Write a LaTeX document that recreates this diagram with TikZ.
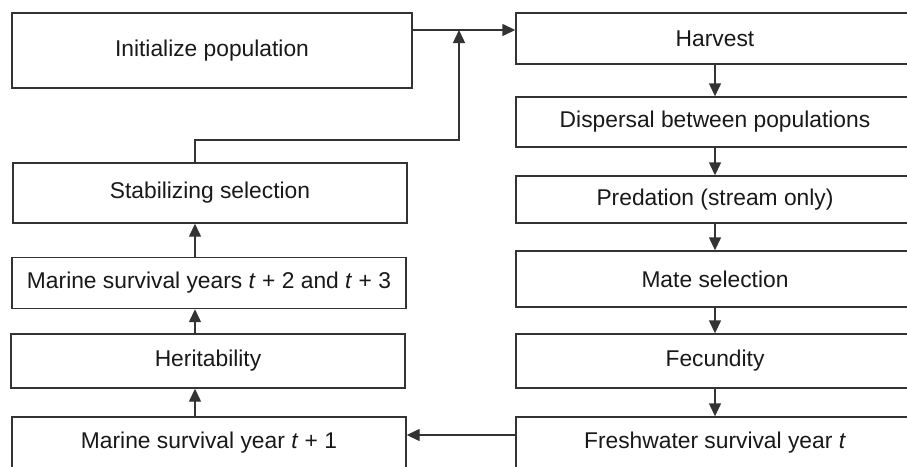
\documentclass[tikz,border=0pt]{standalone}
\usepackage{fontspec}
\setmainfont{Liberation Sans}
\usetikzlibrary{arrows.meta}
\tikzset{
  box/.style={draw=black!80, line width=1.4pt, rectangle, inner sep=0pt, align=center,
    font=\fontsize{22.8pt}{26pt}\selectfont, text=black!90},
  arr/.style={draw=black!80, line width=1.4pt, -{Triangle[length=13pt,width=12pt]}},
  ln/.style={draw=black!80, line width=1.4pt}
}
\begin{document}
\begin{tikzpicture}[x=1pt,y=-1pt]
\useasboundingbox (0,0) rectangle (907,466);
\fill[white] (0,0) rectangle (907,466);
\clip (0,0) rectangle (907,466);
% left column
\node[box, minimum width=400pt, minimum height=75pt] (init) at (212,50.5) {Initialize population};
\node[box, minimum width=394pt, minimum height=60pt] (stab) at (210,193) {Stabilizing selection};
\node[box, minimum width=394pt, minimum height=51pt] (mar23) at (209,283) {Marine survival years \textit{t} + 2 and \textit{t} + 3};
\node[box, minimum width=394pt, minimum height=54pt] (her) at (208,361) {Heritability};
\node[box, minimum width=394pt, minimum height=52pt] (mar1) at (209,443) {Marine survival year \textit{t} + 1};
% right column
\node[box, minimum width=398pt, minimum height=51pt] (harv) at (715,38.5) {Harvest};
\node[box, minimum width=398pt, minimum height=50pt] (disp) at (715,122) {Dispersal between populations};
\node[box, minimum width=398pt, minimum height=47pt] (pred) at (715,199.5) {Predation (stream only)};
\node[box, minimum width=398pt, minimum height=56pt] (mate) at (715,279) {Mate selection};
\node[box, minimum width=398pt, minimum height=54pt] (fec) at (715,361) {Fecundity};
\node[box, minimum width=398pt, minimum height=52pt] (fresh) at (715,443) {Freshwater survival year \textit{t}};
% helper coordinates
\coordinate (lx) at (195,0);
\coordinate (ty) at (0,30);
\coordinate (j) at (459,140);
\coordinate (by) at (0,435);
% right column arrows
\draw[arr] (harv.south) -- (disp.north);
\draw[arr] (disp.south) -- (pred.north);
\draw[arr] (pred.south) -- (mate.north);
\draw[arr] (mate.south) -- (fec.north);
\draw[arr] (fec.south) -- (fresh.north);
% bottom
\draw[arr] (fresh.west |- by) -- (mar1.east |- by);
% left column arrows
\draw[arr] (mar1.north -| lx) -- (her.south -| lx);
\draw[arr] (her.north -| lx) -- (mar23.south -| lx);
\draw[arr] (mar23.north -| lx) -- (stab.south -| lx);
% top
\draw[arr] (init.east |- ty) -- (harv.west |- ty);
\draw[arr] (stab.north -| lx) |- (j) -- (j |- ty);
\end{tikzpicture}
\end{document}
